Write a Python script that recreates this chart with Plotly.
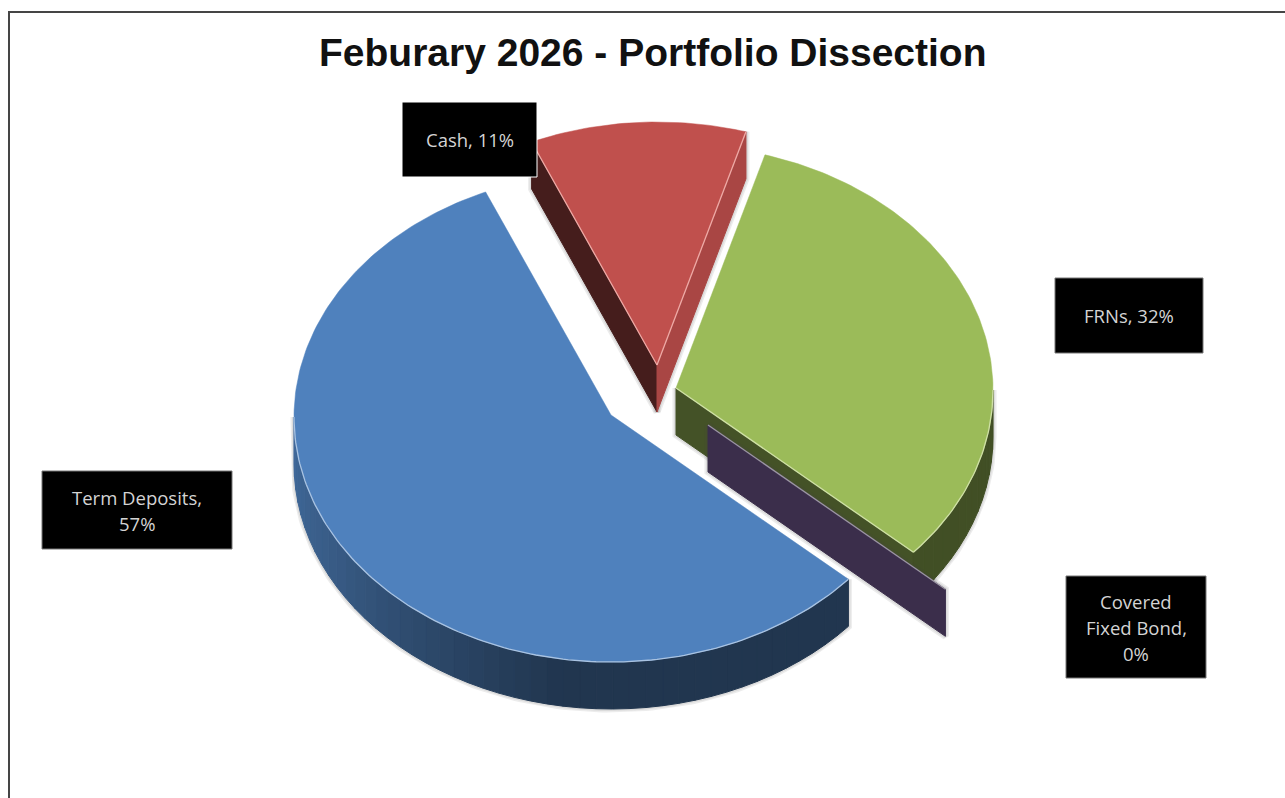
import math
import plotly.graph_objects as go

# Portfolio allocation, percent of total
categories = ["Term Deposits", "Cash", "FRNs", "Covered Fixed Bond"]
shares = [57, 11, 32, 0]
label_lines = [["Term Deposits,", "57%"], ["Cash, 11%"], ["FRNs, 32%"], ["Covered", "Fixed Bond,", "0%"]]
title_text = "Feburary 2026 - Portfolio Dissection"

# Canvas and pie projection (pixel-mapped axes, y pointing down)
W, H = 1285, 798
CX, CY = 654, 394
RX, RY = 317, 245
DEPTH = 47
APEX_RISE = 2  # perspective lifts the apex slightly above the ellipse centre
FIRST_ANGLE = 131.5

# Per-slice styling and explosion, in pie order
top_colors = [(79, 129, 189), (192, 80, 77), (155, 187, 89), (128, 100, 162)]
edge_colors = ["#a9c3e2", "#eeaaa6", "#cfe0a6", "#9c96a4"]
start_side_shade = [0.5, 0.36, 0.44, 0.46]
end_side_shade = [0.5, 0.88, 0.44, 0.46]
explode = [(-43, 23), (3, -27), (22, -4), (54, 33)]
# x0, y0, x1, y1 of each label box
label_boxes = [(42, 471, 232, 549), (402, 102, 537, 177), (1055, 278, 1203, 353), (1066, 576, 1206, 678)]
box_outline = ["#777777", "#ffffff", "#777777", "#777777"]
# Paint order: back slices first, the large front slice last
paint_order = [1, 2, 3, 0]


def rim(cx, cy, angle, drop=0):
    rad = math.radians(angle)
    return cx + RX * math.sin(rad), cy - RY * math.cos(rad) + drop


def arc(cx, cy, a0, a1, drop=0, step=1.0):
    n = max(1, int(abs(a1 - a0) / step))
    return [rim(cx, cy, a0 + (a1 - a0) * i / n, drop) for i in range(n + 1)]


def shade(rgb, factor):
    return "rgb(%d,%d,%d)" % tuple(round(c * factor) for c in rgb)


def wall_factor(angle):
    # Front rim is dark and brightens toward the left-hand side
    stops = [(0, 0.42), (190, 0.42), (215, 0.56), (240, 0.70), (270, 0.82), (360, 0.82)]
    for (a0, f0), (a1, f1) in zip(stops, stops[1:]):
        if a0 <= angle <= a1:
            return f0 + (f1 - f0) * (angle - a0) / (a1 - a0)
    return 0.42


def polygon(points, fill=None, line=None, width=1.0, name=None):
    xs = [p[0] for p in points]
    ys = [p[1] for p in points]
    return go.Scatter(
        x=xs, y=ys, mode="lines", name=name, showlegend=False, hoverinfo="skip",
        fill="toself" if fill else "none", fillcolor=fill,
        line=dict(color=line or "rgba(0,0,0,0)", width=width),
    )


fig = go.Figure()

# Convert shares to clockwise spans around the pie, starting within 0-360
total = sum(shares)
spans = []
angle = FIRST_ANGLE
for value in shares:
    sweep = value / total * 360
    start = angle % 360
    spans.append((start, start + sweep))
    angle += sweep

halo = "rgba(70,70,70,0.10)"
for i in paint_order:
    a0, a1 = spans[i]
    cx, cy = CX + explode[i][0], CY + explode[i][1]
    base = top_colors[i]
    tip = (cx, cy - APEX_RISE)
    tip_low = (cx, cy - APEX_RISE + DEPTH)
    highlights = []
    walls = []
    outlines = []

    # Radial faces: each is seen only when it turns toward the viewer
    if math.sin(math.radians(a0)) < 0 and a1 > a0:
        p = rim(cx, cy, a0)
        face = [tip, p, rim(cx, cy, a0, DEPTH), tip_low]
        walls.append((face, shade(base, start_side_shade[i])))
        outlines.append(face)
        highlights.append([tip, p])
    if math.sin(math.radians(a1)) > 0:
        p = rim(cx, cy, a1)
        face = [tip, p, rim(cx, cy, a1, DEPTH), tip_low]
        walls.append((face, shade(base, end_side_shade[i])))
        outlines.append(face)
        highlights.append([tip, p])

    # Curved rim: the part of the slice on the front half of the pie
    lo, hi = max(a0, 90), min(a1, 270)
    if hi > lo:
        outlines.append(arc(cx, cy, lo, hi) + arc(cx, cy, hi, lo, DEPTH))
        seg = 3.0
        n = max(1, round((hi - lo) / seg))
        for k in range(n):
            s0 = lo + (hi - lo) * k / n
            s1 = lo + (hi - lo) * (k + 1) / n
            walls.append((arc(cx, cy, s0, s1) + arc(cx, cy, s1, s0, DEPTH), shade(base, wall_factor((s0 + s1) / 2))))
        highlights.append(arc(cx, cy, lo, hi))

    for pts in outlines:
        fig.add_trace(polygon(pts + pts[:1], line=halo, width=7))
        fig.add_trace(polygon(pts + pts[:1], line=halo, width=4))
    for pts, color in walls:
        fig.add_trace(polygon(pts + pts[:1], fill=color, line=color, width=1, name=categories[i]))

    # Top face of the slice
    if a1 > a0:
        top = [tip] + arc(cx, cy, a0, a1) + [tip]
        fig.add_trace(polygon(top, fill=shade(base, 1), line=shade(base, 1), width=0.5, name=categories[i]))
    for pts in highlights:
        fig.add_trace(polygon(pts, line=edge_colors[i], width=1.3))

# Title
annotations = [dict(
    x=653, y=52, xref="x", yref="y", text="<b>%s</b>" % title_text, showarrow=False,
    xanchor="center", yanchor="middle",
    font=dict(family="Liberation Sans", size=39, color="#111111"),
)]

# Label boxes, one text line per row
shapes = []
LINE_GAP = 26
for box, outline, lines in zip(label_boxes, box_outline, label_lines):
    x0, y0, x1, y1 = box
    shapes.append(dict(type="rect", xref="x", yref="y", x0=x0, y0=y0, x1=x1, y1=y1,
                       fillcolor="#000000", line=dict(color=outline, width=1), layer="above"))
    mid_x, mid_y = (x0 + x1) / 2, (y0 + y1) / 2
    first = mid_y - LINE_GAP * (len(lines) - 1) / 2
    for row, line in enumerate(lines):
        annotations.append(dict(
            x=mid_x, y=first + row * LINE_GAP, xref="x", yref="y", text=line, showarrow=False,
            xanchor="center", yanchor="middle",
            font=dict(family="Open Sans", size=18.5, color="#d4d4d4"),
        ))

# Chart frame: left and top rules only, both running off the canvas
frame_x, frame_y = [9, 9, W + 2], [H + 2, 12, 12]
fig.add_trace(polygon(list(zip(frame_x, frame_y)), line="#454545", width=2))

fig.update_layout(
    width=W, height=H, margin=dict(l=0, r=0, t=0, b=0),
    paper_bgcolor="#ffffff", plot_bgcolor="#ffffff", showlegend=False,
    xaxis=dict(range=[0, W], visible=False, fixedrange=True),
    yaxis=dict(range=[H, 0], visible=False, fixedrange=True),
    annotations=annotations, shapes=shapes,
)

fig.write_html("out.html")
